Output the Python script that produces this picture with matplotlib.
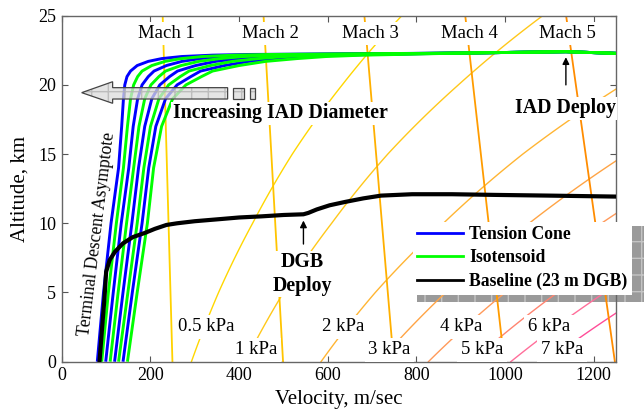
import numpy as np
import matplotlib
matplotlib.use('Agg')
import matplotlib.pyplot as plt
from matplotlib.patches import Polygon, Rectangle
from matplotlib.lines import Line2D

plt.rcParams['font.family'] = ['Liberation Serif', 'DejaVu Serif']

# ---------------- data ----------------
# Atmosphere table (altitude km, speed of sound m/s, density kg/m^3)
atm_alt = [0, 5, 10, 15, 20, 25]
atm_sound = [249.5, 245.1, 240.7, 236.3, 231.9, 227.5]
atm_rho = [0.0117, 0.0080, 0.0054, 0.0037, 0.0025, 0.0017]

mach_numbers = [1, 2, 3, 4, 5]
mach_labels = ['Mach 1', 'Mach 2', 'Mach 3', 'Mach 4', 'Mach 5']
mach_colors = ['#FFD200', '#FFC400', '#FFB000', '#FF9C00', '#FF8C00']

q_kpa = [0.5, 1, 2, 3, 4, 5, 6, 7]
q_labels = ['0.5 kPa', '1 kPa', '2 kPa', '3 kPa', '4 kPa', '5 kPa', '6 kPa', '7 kPa']
q_colors = ['#FFD700', '#FFC81A', '#FFB533', '#FFA445', '#FF9A5A', '#FF8470', '#FF6E9A', '#FF4C98']

# IAD trajectories: velocity at common altitude grid (low-speed part), plus shared tail
iad_alt = [0, 5, 10, 14, 17, 19, 20, 20.6, 21.0, 21.4, 21.7, 21.9, 22.05, 22.15, 22.2]
tension_cone_v = [
    [80, 94, 111, 128, 135, 139, 142, 147, 155, 170, 195, 225, 270, 340, 420],
    [99, 116, 134, 151, 161, 171, 181, 195, 208, 236, 271, 312, 363, 437, 517],
    [119, 138, 158, 173, 187, 203, 221, 243, 261, 302, 347, 399, 456, 534, 614],
    [138, 159, 181, 196, 212, 234, 260, 291, 313, 367, 422, 486, 549, 631, 711],
]
isotensoid_v = [
    [90, 105, 123, 139, 148, 155, 162, 171, 181, 203, 233, 269, 317, 389, 469],
    [109, 127, 146, 162, 174, 187, 201, 219, 234, 269, 309, 356, 410, 486, 566],
    [128, 149, 170, 185, 200, 219, 241, 267, 287, 335, 385, 443, 503, 583, 663],
    [148, 170, 193, 207, 225, 250, 280, 315, 340, 400, 460, 530, 596, 680, 760],
]
tail_v = [900, 1137, 1250]
tail_alt = [22.3, 22.4, 22.28]

baseline_v = [1250, 1100, 980, 880, 790, 720, 680, 640, 604, 575, 556, 545, 500, 450,
              400, 356, 300, 260, 236, 210, 187, 160, 138, 120, 108, 100, 96, 91, 85]
baseline_alt = [11.93, 12.0, 12.05, 12.1, 12.1, 12.0, 11.8, 11.55, 11.3, 11.0, 10.75, 10.65,
                10.6, 10.5, 10.42, 10.3, 10.15, 10.0, 9.88, 9.6, 9.3, 9.0, 8.55, 7.95, 7.35,
                6.5, 4.5, 2.5, 0]

x_ticks = [0, 200, 400, 600, 800, 1000, 1200]
y_ticks = [0, 5, 10, 15, 20, 25]

# ---------------- figure ----------------
fig = plt.figure(figsize=(6.44, 4.09), dpi=100)
ax = fig.add_axes([0.096, 0.1157, 0.8605, 0.8459])
ax.set_xlim(0, 1250)
ax.set_ylim(0, 25)

h_grid = np.linspace(0, 25, 101)
# Mach lines
a_h = np.interp(h_grid, atm_alt, atm_sound)
for M, c in zip(mach_numbers, mach_colors):
    ax.plot(M * a_h, h_grid, color=c, lw=1.3, zorder=1.6)
# dynamic pressure lines
rho_h = np.exp(np.interp(h_grid, atm_alt, np.log(atm_rho)))
for q, c in zip(q_kpa, q_colors):
    ax.plot(np.sqrt(2 * q * 1000 / rho_h), h_grid, color=c, lw=1.0, zorder=1.5)

# IAD curves
for vv in tension_cone_v:
    ax.plot(list(vv) + tail_v, iad_alt + tail_alt, color='#0000FF', lw=2.1, zorder=3,
            solid_capstyle='butt')
for vv in isotensoid_v:
    ax.plot(list(vv) + tail_v, iad_alt + tail_alt, color='#00FF00', lw=2.1, zorder=3.1,
            solid_capstyle='butt')
ax.plot(baseline_v, baseline_alt, color='black', lw=3.0, zorder=3.2)

# ---------------- annotations ----------------
white_box = dict(facecolor='white', edgecolor='none', pad=2)
for M, lab, xc in zip(mach_numbers, mach_labels, [236, 470, 695, 919, 1140]):
    ax.text(xc, 23.73, lab, ha='center', va='center', fontsize=13.5, bbox=white_box,
            zorder=6, clip_on=False)

q_pos = [(326, 2.53), (439, 0.85), (635, 2.53), (739, 0.85), (900, 2.53), (948, 0.85),
         (1099, 2.53), (1128, 0.85)]
for lab, (xq, yq) in zip(q_labels, q_pos):
    ax.text(xq, yq, lab, ha='center', va='center', fontsize=13.5,
            bbox=dict(facecolor='white', edgecolor='none', pad=2.5), zorder=6, clip_on=False)

ax.text(492, 17.95, 'Increasing IAD Diameter', ha='center', va='center', fontsize=14.3,
        fontweight='bold', bbox=dict(facecolor='white', edgecolor='none', pad=1), zorder=6)
ax.text(1136, 18.3, 'IAD Deploy', ha='center', va='center', fontsize=14.3,
        fontweight='bold', bbox=dict(facecolor='white', edgecolor='none', pad=1), zorder=6)
ax.annotate('', xy=(1137, 22.2), xytext=(1137, 19.8),
            arrowprops=dict(arrowstyle='-|>', color='black', lw=1.0, mutation_scale=10), zorder=6)
ax.text(543, 6.32, 'DGB\nDeploy', ha='center', va='center', fontsize=14.3, linespacing=1.25,
        fontweight='bold', bbox=dict(facecolor='white', edgecolor='none', pad=1), zorder=6)
ax.annotate('', xy=(545, 10.4), xytext=(545, 8.3),
            arrowprops=dict(arrowstyle='-|>', color='black', lw=1.0, mutation_scale=10), zorder=6)
ax.text(80, 9.22, 'Terminal Descent Asymptote', ha='center', va='center', fontsize=12.7,
        rotation=83, rotation_mode='anchor', zorder=6)

# Increasing IAD diameter arrow
arrow_pts = [(44.8, 19.44), (114.6, 20.23), (114.6, 19.80), (374, 19.80), (374, 18.98),
             (114.6, 18.98), (114.6, 18.67)]
sq1 = [(386, 19.80), (410, 19.80), (410, 18.98), (386, 18.98)]
sq2 = [(423.6, 19.80), (435, 19.80), (435, 18.98), (423.6, 18.98)]
for pts in (arrow_pts, sq1, sq2):
    ax.add_patch(Polygon(pts, closed=True, facecolor='#dcdcdc', edgecolor='#b0b0b0',
                         hatch='+', lw=0, alpha=0.75, zorder=5))
    ax.add_patch(Polygon(pts, closed=True, facecolor='none', edgecolor='#444444',
                         lw=0.9, zorder=5.1))

# legend shadow
shadow = Rectangle((0.648, 0.2616), 0.352, 0.186, transform=fig.transFigure,
                   facecolor='#9a9a9a', edgecolor='#c4c4c4', hatch='+', lw=0,
                   zorder=1.0, clip_on=False)
ax.add_patch(shadow)

handles = [Line2D([], [], color='#0000FF', lw=2),
           Line2D([], [], color='#00FF00', lw=2),
           Line2D([], [], color='black', lw=2)]
leg = ax.legend(handles, ['Tension Cone', 'Isotensoid', 'Baseline (23 m DGB)'],
                loc='upper left', bbox_to_anchor=(0.641, 0.458), bbox_transform=fig.transFigure,
                prop={'family': 'Liberation Serif', 'weight': 'bold', 'size': 12.7},
                frameon=True, fancybox=False, shadow=False, borderaxespad=0,
                borderpad=0.25, handlelength=2.6, handletextpad=0.35, labelspacing=0.36)
leg.get_frame().set_facecolor('white')
leg.get_frame().set_edgecolor('none')
leg.get_frame().set_alpha(1)
leg.set_zorder(7)

# axes styling
ax.set_xticks(x_ticks)
ax.set_yticks(y_ticks)
ax.tick_params(direction='in', top=True, right=True, length=4, width=0.8,
               color='#555555', labelsize=13, pad=4)
for s in ax.spines.values():
    s.set_color('#666666')
    s.set_linewidth(1.0)
    s.set_zorder(2.5)
ax.set_xlabel('Velocity, m/sec', fontsize=15, labelpad=4)
ax.set_ylabel('Altitude, km', fontsize=15, labelpad=6)

fig.savefig('out.png', dpi=100)
